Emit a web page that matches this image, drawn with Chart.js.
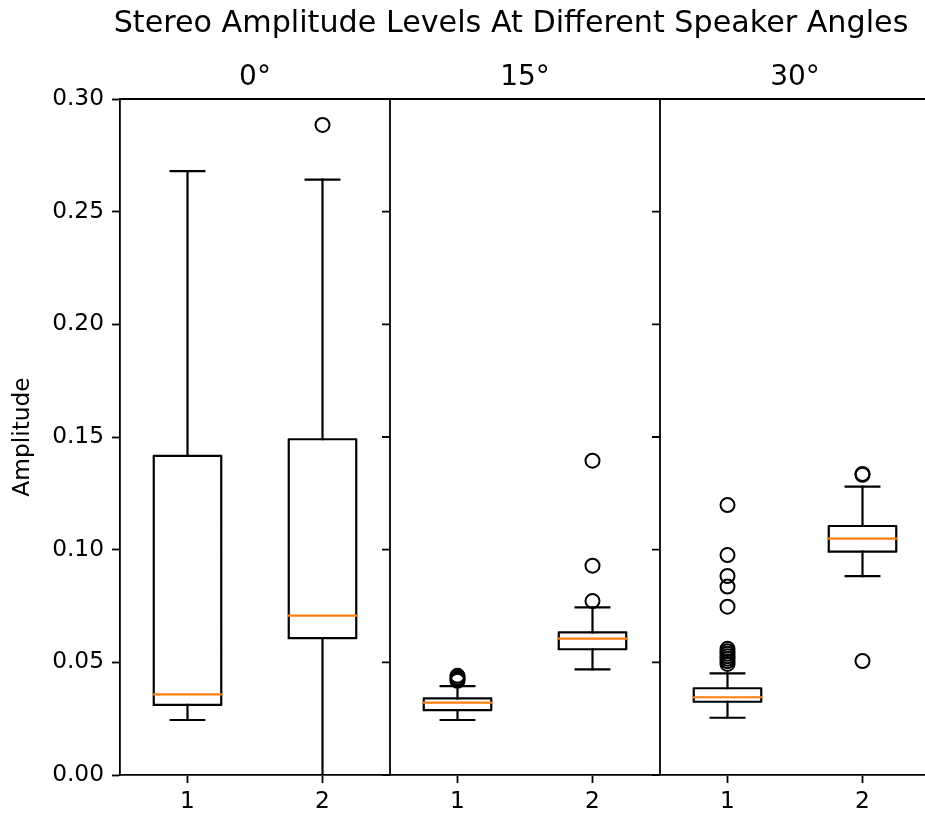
<!DOCTYPE html>
<html>
<head>
<meta charset="utf-8">
<script src="https://cdn.jsdelivr.net/npm/chart.js@4/dist/chart.umd.min.js"></script>
<style>
html, body { margin: 0; padding: 0; background: #fff; overflow: hidden; width: 925px; height: 816px; }
#wrap { position: relative; width: 1022px; height: 816px; }
</style>
</head>
<body>
<div id="wrap"><canvas id="c" width="1022" height="816"></canvas></div>
<script>
// ---- data ----
const chartTitle = 'Stereo Amplitude Levels At Different Speaker Angles';
const angleLabels = ['0°', '15°', '30°'];
const channelLabels = ['1', '2'];
const yAxisLabel = 'Amplitude';
const yTickValues = [0, 0.05, 0.10, 0.15, 0.20, 0.25, 0.30];
const yTickLabels = ['0.00', '0.05', '0.10', '0.15', '0.20', '0.25', '0.30'];
// box order: 0° ch1, 0° ch2, 15° ch1, 15° ch2, 30° ch1, 30° ch2
const whiskerLow  = [0.0244, 0.0000, 0.0244, 0.0469, 0.0254, 0.0883];
const q1          = [0.0311, 0.0607, 0.0288, 0.0558, 0.0325, 0.0991];
const medians     = [0.0358, 0.0707, 0.0321, 0.0605, 0.0345, 0.1049];
const q3          = [0.1416, 0.1490, 0.0340, 0.0633, 0.0385, 0.1105];
const whiskerHigh = [0.2680, 0.2642, 0.0394, 0.0744, 0.0451, 0.1280];
const outliers = [
  [],
  [0.2885],
  [0.0440, 0.0432, 0.0425, 0.0418],
  [0.1395, 0.0929, 0.0772],
  [0.1198, 0.0976, 0.0883, 0.0836, 0.0747, 0.0560, 0.0549, 0.0538, 0.0527, 0.0516, 0.0505, 0.0493],
  [0.1336, 0.1332, 0.0506]
];

// ---- styling constants ----
const FONT = '"DejaVu Sans", sans-serif';
const HALF_BOX = 0.25, HALF_CAP = 0.125;
const LINE_W = 2.2, SPINE_W = 1.8, TICK_LEN = 8;
const MEDIAN_COLOR = '#ff7f0e';

const positions = medians.map((_, i) => i + 1);
const xTickLabels = angleLabels.flatMap(() => channelLabels);
const panelEdges = angleLabels.map((_, k) => (k + 1) * channelLabels.length + 0.5);
const panelCenters = angleLabels.map((_, k) => k * channelLabels.length + 1.5);

const gap = x => ({ x, y: null });
const boxPts = [], whiskerPts = [], capPts = [], medianPts = [], flierPts = [];
positions.forEach((p, i) => {
  boxPts.push({ x: p - HALF_BOX, y: q1[i] }, { x: p + HALF_BOX, y: q1[i] },
              { x: p + HALF_BOX, y: q3[i] }, { x: p - HALF_BOX, y: q3[i] },
              { x: p - HALF_BOX, y: q1[i] }, gap(p));
  whiskerPts.push({ x: p, y: q3[i] }, { x: p, y: whiskerHigh[i] }, gap(p),
                  { x: p, y: q1[i] }, { x: p, y: whiskerLow[i] }, gap(p));
  capPts.push({ x: p - HALF_CAP, y: whiskerHigh[i] }, { x: p + HALF_CAP, y: whiskerHigh[i] }, gap(p),
              { x: p - HALF_CAP, y: whiskerLow[i] }, { x: p + HALF_CAP, y: whiskerLow[i] }, gap(p));
  medianPts.push({ x: p - HALF_BOX, y: medians[i] }, { x: p + HALF_BOX, y: medians[i] }, gap(p));
  outliers[i].forEach(v => flierPts.push({ x: p, y: v }));
});

const lineDs = (label, data, color) => ({
  label, data, borderColor: color, borderWidth: LINE_W, pointRadius: 0, pointHoverRadius: 0,
  fill: false, tension: 0, spanGaps: false, borderCapStyle: 'square', borderJoinStyle: 'round'
});

const panelPlugin = {
  id: 'panels',
  afterDraw(chart) {
    const { ctx, chartArea: a, scales: { x, y } } = chart;
    ctx.save();
    ctx.strokeStyle = '#000';
    ctx.lineWidth = SPINE_W;
    ctx.beginPath();
    ctx.moveTo(a.left, a.top);
    ctx.lineTo(a.right, a.top);
    panelEdges.forEach(v => {
      const px = x.getPixelForValue(v);
      ctx.moveTo(px, a.top);
      ctx.lineTo(px, a.bottom);
      if (v < panelEdges[panelEdges.length - 1]) {
        yTickValues.forEach(t => {
          const py = y.getPixelForValue(t);
          ctx.moveTo(px - TICK_LEN, py);
          ctx.lineTo(px, py);
        });
      }
    });
    ctx.stroke();
    ctx.fillStyle = '#000';
    ctx.textAlign = 'center';
    ctx.textBaseline = 'alphabetic';
    ctx.font = '30.2px ' + FONT;
    ctx.fillText(chartTitle, chart.width / 2, 32);
    ctx.font = '28px ' + FONT;
    angleLabels.forEach((lab, k) => {
      ctx.fillText(lab, x.getPixelForValue(panelCenters[k]), a.top - 14);
    });
    ctx.restore();
  }
};

Chart.defaults.font.family = FONT;
Chart.defaults.color = '#000';

new Chart(document.getElementById('c'), {
  type: 'line',
  data: {
    datasets: [
      lineDs('median', medianPts, MEDIAN_COLOR),
      lineDs('box', boxPts, '#000'),
      lineDs('whisker', whiskerPts, '#000'),
      lineDs('cap', capPts, '#000'),
      {
        label: 'outliers', data: flierPts, showLine: false,
        pointRadius: 7, pointHoverRadius: 7, pointBorderWidth: 2,
        pointBorderColor: '#000', pointBackgroundColor: 'rgba(0,0,0,0)', borderColor: '#000'
      }
    ]
  },
  options: {
    responsive: false,
    devicePixelRatio: 1,
    animation: false,
    events: [],
    layout: { padding: { top: 99, right: 92, left: 0, bottom: 0 } },
    plugins: { legend: { display: false }, tooltip: { enabled: false }, title: { display: false } },
    scales: {
      x: {
        type: 'linear', min: 0.5, max: positions.length + 0.5, offset: false,
        afterBuildTicks: s => { s.ticks = positions.map(v => ({ value: v })); },
        afterFit: s => { s.height = 41; },
        ticks: { autoSkip: false, maxRotation: 0, padding: 5, font: { size: 23.3 },
                 callback: (v, i) => xTickLabels[i] },
        grid: { drawOnChartArea: false, drawTicks: true, tickLength: TICK_LEN, tickColor: '#000', tickWidth: SPINE_W },
        border: { display: true, color: '#000', width: SPINE_W }
      },
      y: {
        type: 'linear', min: 0, max: 0.3,
        afterBuildTicks: s => { s.ticks = yTickValues.map(v => ({ value: v })); },
        afterFit: s => { s.width = 120; },
        ticks: { padding: 8, font: { size: 23.3 }, callback: (v, i) => yTickLabels[i] },
        grid: { drawOnChartArea: false, drawTicks: true, tickLength: TICK_LEN, tickColor: '#000', tickWidth: SPINE_W },
        border: { display: true, color: '#000', width: SPINE_W },
        title: { display: true, text: yAxisLabel, font: { size: 23.3 }, padding: { top: 9, bottom: 0 } }
      }
    }
  },
  plugins: [panelPlugin]
});
</script>
</body>
</html>
